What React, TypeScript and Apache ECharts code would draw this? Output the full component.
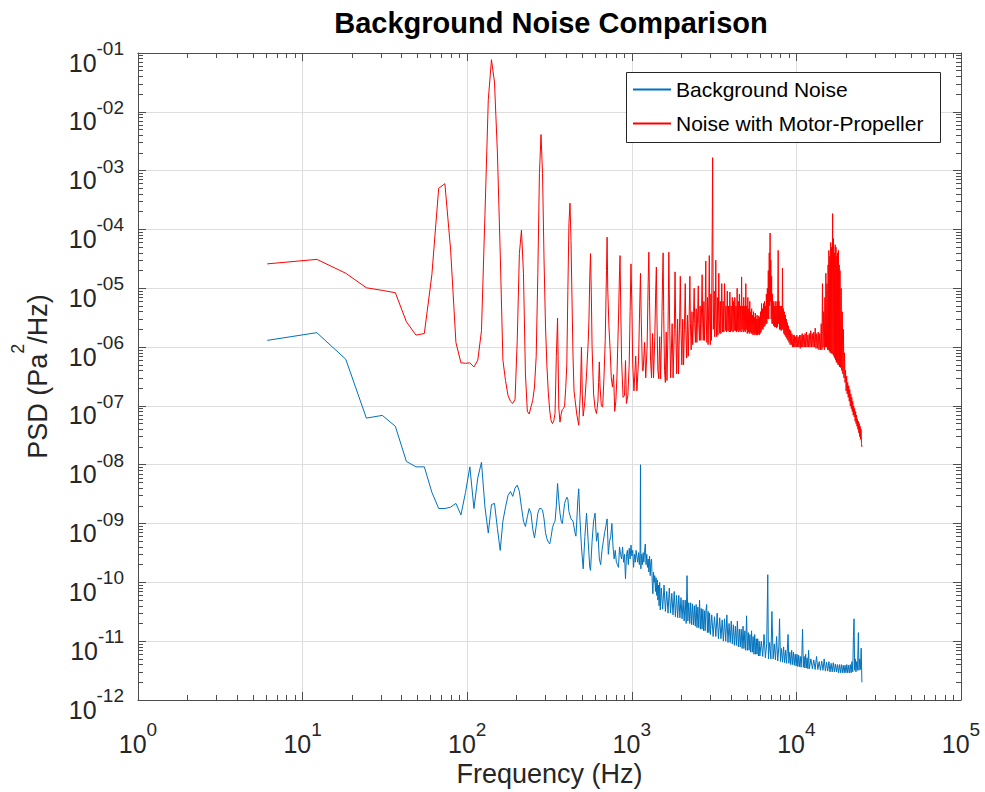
import React, { useEffect, useRef } from "react";
import * as echarts from "echarts";

const FONT = '"Liberation Sans", Arial, Helvetica, sans-serif';
const TEXT = "#262626";
const AXIS = "#4d4d4d";
const GRID = "#dedede";
const BLUE = "#0072BD";
const RED = "#FF0000";

const chartTitle = "Background Noise Comparison";
const seriesNames = ["Background Noise", "Noise with Motor-Propeller"];
const xAxisName = "Frequency (Hz)";
const yNameParts = ["PSD (Pa", "2", "/Hz)"];

const xDecades = [1, 10, 100, 1000, 10000, 100000];
const yDecades = [1e-12, 1e-11, 1e-10, 1e-9, 1e-8, 1e-7, 1e-6, 1e-5, 1e-4, 1e-3, 1e-2, 1e-1];

// ---------- Background noise (blue) ----------
const blueLow: [number, number][] = [
  [6.1, 1.3e-6], [12.2, 1.76e-6], [18.3, 6.2e-7], [24.4, 6.2e-8], [30.5, 6.9e-8], [36.6, 4.5e-8],
  [42.7, 1.14e-8], [48.8, 9.2e-9], [54.9, 9.2e-9], [61.0, 3.4e-9], [67.1, 1.8e-9], [73.2, 1.8e-9],
  [79.3, 1.9e-9], [85.4, 2.2e-9], [91.6, 1.4e-9], [97.7, 3.4e-9], [103.8, 9.2e-9], [109.9, 1.8e-9],
  [116.0, 6.0e-9], [122.1, 1.1e-8], [128.2, 1.9e-9], [134.3, 6.9e-10], [140.4, 2.1e-9], [146.5, 2.2e-9],
  [152.6, 8.2e-10], [158.7, 3.5e-10], [164.8, 1.1e-9], [170.9, 1.9e-9], [177.0, 3.0e-9], [183.1, 3.5e-9],
  [189.2, 2.9e-9], [195.3, 4.0e-9], [201.4, 4.5e-9], [207.5, 3.5e-9], [213.6, 1.9e-9], [219.7, 1.1e-9],
  [225.8, 8.9e-10], [231.9, 1.3e-9], [238.0, 1.8e-9], [244.1, 1.5e-9], [250.2, 8.0e-10], [256.3, 5.7e-10],
  [262.5, 9.0e-10], [268.6, 1.5e-9], [274.7, 1.8e-9], [280.8, 1.8e-9], [286.9, 1.7e-9], [293.0, 1.2e-9],
  [299.1, 7.0e-10], [305.2, 5.5e-10], [311.3, 4.8e-10], [317.4, 4.5e-10], [323.5, 6.0e-10], [329.6, 8.5e-10],
  [335.7, 1.0e-9], [341.8, 1.1e-9], [347.9, 2.0e-9], [354.0, 4.8e-9], [360.1, 2.5e-9], [366.2, 1.5e-9],
  [372.3, 1.1e-9], [378.4, 1.0e-9], [384.5, 1.5e-9], [390.6, 2.2e-9], [396.7, 2.5e-9], [402.8, 2.8e-9],
  [408.9, 2.6e-9], [415.0, 1.6e-9], [427.2, 1.2e-9], [439.5, 1.1e-9], [451.7, 7.0e-10], [457.8, 6.1e-10],
  [463.9, 1.2e-9], [470.0, 2.5e-9], [476.1, 3.9e-9], [482.2, 1.5e-9], [494.4, 4.0e-10], [506.6, 1.7e-10],
  [518.8, 6.0e-10], [531.0, 1.5e-9], [543.2, 5.0e-10], [555.4, 1.8e-10], [561.5, 1.6e-10], [573.7, 5.0e-10],
  [585.9, 1.1e-9], [598.1, 1.5e-9], [610.4, 5.0e-10], [622.6, 7.0e-10], [634.8, 2.5e-10], [647.0, 2.0e-10],
  [659.2, 3.5e-10], [671.4, 5.0e-10], [683.6, 7.0e-10], [695.8, 9.0e-10], [708.0, 1.2e-9], [720.2, 3.0e-10],
  [732.4, 5.0e-10], [744.6, 6.0e-10], [756.8, 1.0e-9], [769.0, 4.0e-10], [781.3, 2.5e-10], [793.5, 3.5e-10],
  [805.7, 2.2e-10], [817.9, 2.0e-10], [830.1, 1.8e-10], [842.3, 4.0e-10], [854.5, 3.0e-10], [866.7, 2.5e-10],
  [878.9, 4.0e-10], [891.1, 2.2e-10], [903.3, 3.0e-10], [915.5, 1.15e-10], [927.7, 2.8e-10], [939.9, 3.5e-10],
  [952.1, 2.0e-10], [964.3, 3.8e-10], [976.6, 2.5e-10], [988.8, 4.3e-10],
];

const blueMid: [number, number][] = [
  [1001, 2.8e-10], [1013, 3.5e-10], [1025, 1.8e-10], [1038, 3.0e-10], [1050, 2.2e-10], [1062, 3.5e-10],
  [1074, 2.7e-10], [1086, 2.2e-10], [1099, 3.2e-10], [1111, 2.0e-10], [1123, 3.5e-10], [1129, 1.0e-8],
  [1135, 1.7e-10], [1147, 3.0e-10], [1160, 2.0e-10], [1172, 3.2e-10], [1184, 2.2e-10], [1196, 3.5e-10],
  [1208, 4.5e-10], [1221, 2.0e-10], [1233, 3.0e-10], [1245, 1.8e-10], [1257, 2.5e-10], [1270, 1.5e-10],
  [1282, 2.8e-10], [1294, 1.3e-10], [1306, 2.2e-10], [1318, 2.5e-10], [1331, 1.0e-10], [1343, 6.4e-11],
  [1355, 1.5e-10], [1367, 1.0e-10], [1379, 1.3e-10], [1392, 7.0e-11], [1404, 1.2e-10], [1416, 6.0e-11],
  [1428, 1.1e-10], [1440, 5.0e-11], [1453, 9.0e-11], [1465, 4.0e-11], [1477, 1.0e-10], [1489, 3.4e-11],
  [1510, 8.0e-11], [1540, 3.5e-11], [1570, 9.0e-11], [1600, 3.2e-11], [1630, 7.0e-11], [1660, 3.0e-11],
  [1690, 8.0e-11], [1720, 3.0e-11], [1750, 6.5e-11], [1780, 2.8e-11], [1810, 7.0e-11], [1840, 2.6e-11],
  [1870, 6.0e-11], [1900, 2.5e-11], [1930, 6.0e-11], [1960, 2.5e-11], [1990, 5.5e-11], [2020, 2.4e-11],
  [2050, 5.0e-11], [2080, 2.2e-11], [2110, 5.0e-11], [2140, 2.0e-11], [2165, 1.3e-10], [2190, 2.2e-11],
  [2220, 4.5e-11], [2250, 2.0e-11], [2280, 4.5e-11], [2310, 1.9e-11], [2340, 4.3e-11], [2370, 1.9e-11],
  [2400, 4.0e-11], [2430, 1.8e-11], [2460, 4.2e-11], [2490, 1.7e-11], [2520, 3.8e-11], [2550, 1.7e-11],
  [2580, 5.0e-11], [2610, 1.6e-11], [2640, 3.6e-11], [2670, 1.6e-11], [2700, 3.5e-11], [2730, 1.5e-11],
  [2760, 3.3e-11], [2790, 1.5e-11], [2820, 3.3e-11], [2850, 4.2e-11], [2880, 1.4e-11], [2910, 3.2e-11],
  [2940, 1.4e-11], [2970, 3.0e-11], [3000, 1.3e-11],
];

const blueHigh: [number, number][] = [
  [3060, 2.8e-11], [3120, 1.2e-11], [3180, 2.6e-11], [3240, 1.2e-11], [3300, 3.0e-11], [3360, 1.1e-11],
  [3420, 2.5e-11], [3480, 1.1e-11], [3540, 2.3e-11], [3600, 1.0e-11], [3660, 2.4e-11], [3720, 1.0e-11],
  [3780, 2.8e-11], [3840, 9.5e-12], [3900, 2.0e-11], [3960, 9.5e-12], [4020, 2.2e-11], [4080, 9.0e-12],
  [4140, 1.9e-11], [4200, 8.5e-12], [4260, 1.8e-11], [4320, 8.5e-12], [4380, 2.2e-11], [4440, 8.0e-12],
  [4500, 1.6e-11], [4560, 8.0e-12], [4620, 1.6e-11], [4680, 7.5e-12], [4740, 1.8e-11], [4800, 7.5e-12],
  [4860, 1.5e-11], [4920, 7.0e-12], [4980, 2.7e-11], [5040, 7.0e-12], [5100, 1.4e-11], [5160, 7.0e-12],
  [5220, 1.3e-11], [5280, 6.5e-12], [5340, 1.5e-11], [5400, 6.5e-12], [5460, 1.2e-11], [5520, 6.0e-12],
  [5580, 1.3e-11], [5640, 6.0e-12], [5700, 1.1e-11], [5760, 6.0e-12], [5820, 1.1e-11], [5880, 5.6e-12],
  [5940, 1.0e-11], [6000, 5.6e-12], [6120, 1.0e-11], [6240, 5.5e-12], [6360, 1.3e-11], [6480, 5.2e-12],
  [6600, 9.0e-12], [6700, 1.35e-10], [6760, 5.0e-12], [6880, 9.5e-12], [7000, 5.0e-12], [7100, 3.2e-11],
  [7220, 5.0e-12], [7340, 9.0e-12], [7460, 4.8e-12], [7580, 1.2e-11], [7700, 4.6e-12], [7820, 8.0e-12],
  [7900, 2.4e-11], [8000, 4.5e-12], [8120, 7.5e-12], [8240, 4.4e-12], [8360, 8.0e-12], [8480, 4.3e-12],
  [8600, 7.0e-12], [8720, 4.2e-12], [8900, 1.3e-11], [9000, 4.2e-12], [9120, 6.5e-12], [9240, 4.0e-12],
  [9360, 7.0e-12], [9480, 4.0e-12], [9600, 6.5e-12], [9720, 3.9e-12], [9840, 6.0e-12], [9960, 3.8e-12],
  [10080, 6.0e-12], [10200, 3.7e-12], [10320, 5.8e-12], [10440, 3.7e-12], [10560, 5.5e-12], [10680, 3.6e-12],
  [10800, 6.0e-12], [10900, 1.6e-11], [11020, 3.6e-12], [11140, 5.5e-12], [11260, 3.5e-12], [11380, 6.0e-12],
  [11500, 3.5e-12], [11620, 5.2e-12], [11740, 3.4e-12], [11860, 7.0e-12], [11980, 3.4e-12], [12250, 5.0e-12],
  [12500, 3.4e-12], [12750, 4.8e-12], [13000, 3.3e-12], [13250, 5.5e-12], [13500, 3.3e-12], [13750, 4.5e-12],
  [14000, 3.2e-12], [14250, 4.6e-12], [14500, 3.2e-12], [14750, 5.0e-12], [15000, 3.1e-12], [15250, 4.4e-12],
  [15500, 3.1e-12], [15750, 4.5e-12], [16000, 3.0e-12], [16250, 4.2e-12], [16500, 3.0e-12], [16750, 4.3e-12],
  [17000, 3.0e-12], [17250, 4.1e-12], [17500, 3.0e-12], [17750, 4.0e-12], [18000, 2.9e-12], [18250, 4.0e-12],
  [18500, 2.9e-12], [18750, 4.0e-12], [19000, 2.9e-12], [19250, 3.9e-12], [19500, 2.9e-12], [19750, 3.9e-12],
  [20000, 2.9e-12], [20250, 4.0e-12], [20500, 2.9e-12], [20750, 3.9e-12], [21000, 2.9e-12], [21250, 4.0e-12],
  [21500, 2.9e-12], [21750, 4.5e-12], [22000, 3.0e-12], [22200, 1.2e-11], [22400, 2.4e-11], [22600, 3.2e-12],
  [22800, 5.0e-12], [23000, 3.0e-12], [23250, 4.5e-12], [23500, 3.2e-12], [23800, 1.4e-11], [24000, 3.2e-12],
  [24250, 5.0e-12], [24500, 3.3e-12], [24750, 7.6e-12], [24900, 3.5e-12], [25000, 2.0e-12],
];

// ---------- Noise with motor-propeller (red) ----------
const redLow: [number, number][] = [
  [6.1, 2.6e-5], [12.2, 3.1e-5], [18.3, 1.8e-5], [24.4, 1.02e-5], [30.5, 9.2e-6], [36.6, 8.4e-6],
  [42.7, 2.7e-6], [48.8, 1.6e-6], [54.9, 1.7e-6], [61.0, 1.7e-5], [67.1, 5.0e-4], [73.2, 6.0e-4],
  [79.3, 4.5e-5], [85.4, 1.2e-6], [91.6, 5.4e-7], [97.7, 5.3e-7], [103.8, 5.4e-7], [109.9, 4.6e-7],
  [116.0, 6.0e-7], [122.1, 1.9e-6], [128.2, 1.8e-4], [134.3, 1.6e-2], [140.4, 7.7e-2], [146.5, 3.2e-2],
  [152.6, 2.0e-3], [158.7, 4.0e-5], [164.8, 6.0e-7], [170.9, 2.7e-7], [177.0, 1.5e-7], [183.1, 1.2e-7],
  [189.2, 1.1e-7], [195.3, 1.3e-7], [201.4, 1.3e-6], [207.5, 3.9e-5], [213.6, 9.7e-5], [219.7, 1.8e-5],
  [225.8, 3.5e-7], [231.9, 8.1e-8], [238.0, 7.3e-8], [244.1, 9.6e-8], [250.2, 1.25e-7], [256.3, 2.1e-7],
  [262.5, 6.9e-7], [268.6, 1.8e-5], [274.7, 8.9e-4], [280.8, 4.1e-3], [286.9, 8.9e-4], [293.0, 3.0e-5],
  [299.1, 2.2e-6], [305.2, 4.6e-7], [311.3, 1.6e-7], [317.4, 8.2e-8], [323.5, 5.6e-8], [329.6, 5.0e-8],
  [335.7, 5.6e-8], [341.8, 7.5e-8], [347.9, 6.9e-7], [354.0, 3.1e-6], [360.1, 9.2e-8], [366.2, 5.3e-8],
  [372.3, 7.3e-8], [378.4, 8.7e-8], [384.5, 9.0e-8], [390.6, 1.0e-7], [396.7, 2.0e-7], [402.8, 5.0e-7],
  [408.9, 9.2e-6], [415.0, 1.25e-4], [421.1, 2.8e-4], [427.2, 6.5e-5], [433.3, 6.3e-6], [439.5, 6.9e-7],
  [445.6, 1.8e-7], [451.7, 1.3e-7], [463.9, 7.0e-8], [476.1, 4.7e-8], [488.3, 2.0e-7], [494.4, 1.0e-6],
  [500.5, 1.5e-7], [506.6, 6.7e-8], [518.8, 1.2e-7], [531.0, 3.5e-7], [543.2, 1.2e-6], [549.3, 3.0e-6],
  [555.4, 1.5e-5], [561.5, 3.9e-5], [567.6, 8.0e-6], [573.7, 1.0e-6], [585.9, 1.6e-7], [598.1, 9.0e-8],
  [610.4, 7.4e-8], [622.6, 1.2e-7], [628.7, 2.5e-7], [634.8, 5.6e-7], [640.9, 2.2e-7], [653.1, 1.0e-7],
  [665.3, 9.6e-8], [677.5, 3.0e-7], [689.7, 1.3e-6], [701.9, 2.0e-5], [708.0, 7.4e-5], [714.1, 1.0e-5],
  [726.3, 2.2e-6], [738.5, 9.0e-7], [750.7, 3.0e-7], [762.9, 2.1e-7], [775.1, 3.4e-7], [787.3, 8.1e-8],
  [799.6, 1.2e-7], [811.8, 3.0e-7], [830.1, 3.0e-6], [842.3, 2.0e-5], [848.4, 3.6e-5], [854.5, 8.0e-6],
  [866.7, 6.0e-7], [885.0, 1.4e-7], [903.3, 1.5e-7], [915.5, 5.9e-7], [927.7, 1.1e-7], [946.0, 1.5e-7],
  [964.3, 5.0e-7], [976.6, 4.0e-6], [988.8, 2.6e-5], [1001, 5.0e-6], [1013, 5.0e-7], [1031, 1.8e-7],
];

const redMid: [number, number][] = [
  [1056, 7e-7], [1074, 1.8e-7], [1099, 6e-7], [1117, 5e-6], [1129, 1.8e-5], [1141, 3e-6], [1160, 4e-7],
  [1172, 4e-7], [1196, 1.2e-6], [1215, 3e-7], [1239, 1e-6], [1257, 1.2e-5], [1269, 4.1e-5], [1282, 6e-6],
  [1300, 6e-7], [1318, 3e-7], [1337, 1.7e-6], [1355, 3e-7], [1380, 1.5e-6], [1398, 1e-5], [1410, 2.3e-5],
  [1422, 3e-6], [1440, 4e-7], [1459, 2.9e-7], [1477, 1.5e-6], [1496, 2.9e-7], [1520, 2e-6], [1538, 1.5e-5],
  [1550, 4e-5], [1562, 4e-6], [1581, 4e-7], [1599, 2.5e-7], [1618, 1.8e-6], [1636, 2.7e-7], [1660, 2e-6],
  [1679, 4.1e-5], [1697, 3e-6], [1721, 3e-7], [1758, 2.5e-6], [1782, 3e-7], [1813, 2e-6], [1831, 1.9e-5],
  [1850, 2e-6], [1874, 3.5e-7], [1898, 3e-6], [1923, 3.5e-7], [1953, 3e-6], [1971, 1.6e-5], [1990, 2e-6],
  [2014, 5e-7], [2038, 3e-6], [2063, 5e-7], [2093, 3e-6], [2112, 1.2e-5], [2130, 2e-6], [2155, 6.5e-7],
  [2179, 3.5e-6], [2203, 7e-7], [2234, 4e-6], [2253, 1.6e-5], [2271, 2.5e-6], [2295, 9e-7], [2320, 4e-6],
  [2344, 1.1e-6], [2374, 4e-6], [2393, 1e-5], [2411, 2.5e-6], [2436, 1.2e-6], [2460, 4.5e-6], [2485, 1.2e-6],
  [2515, 4e-6], [2534, 1.1e-5], [2552, 2.5e-6], [2576, 1.3e-6], [2601, 5e-6], [2625, 1.3e-6], [2656, 5e-6],
  [2675, 1.7e-5], [2693, 3e-6], [2717, 1.3e-6], [2742, 6e-6], [2766, 1.3e-6], [2797, 6e-6], [2816, 2.9e-5],
  [2834, 3e-6], [2858, 1.2e-6], [2883, 7e-6], [2907, 1.1e-6], [2938, 7e-6], [2957, 3.6e-5], [2975, 3e-6],
  [2999, 1.1e-6], [3024, 8e-6], [3048, 1.3e-6], [3080, 1e-4], [3098, 1.66e-3], [3110, 5e-5], [3128, 2e-6],
  [3168, 9e-6], [3190, 1.5e-6], [3220, 6e-6], [3238, 3e-5], [3256, 3e-6], [3280, 1.5e-6], [3309, 7e-6],
  [3334, 1.6e-6], [3362, 5e-6], [3379, 1.8e-5], [3397, 3e-6], [3425, 1.7e-6], [3450, 6e-6], [3475, 1.7e-6],
  [3520, 1.2e-5], [3560, 1.8e-6], [3590, 6e-6], [3620, 1.8e-6], [3661, 1.2e-5], [3700, 1.9e-6], [3731, 5e-6],
  [3765, 1.8e-6], [3802, 9e-6], [3840, 1.9e-6], [3872, 5e-6], [3905, 1.8e-6], [3942, 8.6e-6], [3980, 1.8e-6],
  [4013, 5e-6], [4045, 1.9e-6], [4083, 7e-6], [4120, 1.8e-6], [4154, 6e-6], [4190, 1.9e-6], [4224, 7e-6],
  [4260, 1.9e-6], [4294, 5e-6], [4330, 1.8e-6], [4365, 1e-5], [4400, 1.9e-6], [4435, 6e-6], [4470, 1.8e-6],
  [4506, 8e-6], [4540, 1.9e-6], [4576, 5e-6], [4610, 1.8e-6], [4646, 1.56e-5], [4680, 2e-6], [4717, 5e-6],
  [4750, 1.8e-6], [4787, 7e-6], [4820, 1.9e-6], [4858, 5e-6], [4890, 1.8e-6], [4928, 1.2e-5], [4960, 2e-6],
];

const redHigh: [number, number][] = [
  [4998, 5e-6], [5030, 1.7e-6], [5069, 7e-6], [5100, 1.8e-6], [5139, 4.5e-6], [5170, 1.7e-6], [5210, 6e-6],
  [5240, 1.8e-6], [5280, 4e-6], [5310, 1.7e-6], [5350, 4.5e-6], [5380, 1.7e-6], [5420, 3.5e-6], [5455, 1.6e-6],
  [5490, 4e-6], [5525, 1.7e-6], [5560, 3.2e-6], [5595, 1.6e-6], [5630, 3.8e-6], [5665, 1.7e-6], [5700, 3e-6],
  [5735, 1.6e-6], [5770, 3.5e-6], [5805, 1.6e-6], [5840, 3e-6], [5875, 1.7e-6], [5910, 3.4e-6], [5945, 1.6e-6],
  [5980, 3.2e-6], [6020, 1.7e-6], [6060, 4e-6], [6100, 1.8e-6], [6140, 5.5e-6], [6180, 2e-6], [6220, 4.5e-6],
  [6270, 2e-6], [6310, 5.5e-6], [6350, 2.2e-6], [6400, 6e-6], [6440, 2.3e-6], [6480, 5e-6], [6520, 2.5e-6],
  [6570, 8e-6], [6610, 2.5e-6], [6660, 1e-5], [6700, 3e-6], [6750, 2e-5], [6790, 3e-6], [6840, 4e-5],
  [6880, 5e-6], [6920, 8.7e-5], [6950, 6e-6], [6990, 3e-5], [7030, 3e-6], [7070, 1.6e-5], [7110, 2.5e-6],
  [7150, 8e-6], [7190, 2.5e-6], [7240, 6e-6], [7280, 2.3e-6], [7330, 5e-6], [7380, 2.2e-6], [7430, 6e-6],
  [7480, 2.2e-6], [7530, 5e-6], [7580, 2.1e-6], [7630, 6e-6], [7680, 2.2e-6], [7750, 4.4e-5], [7790, 2.5e-6],
  [7840, 6e-6], [7890, 2e-6], [7940, 5e-6], [7990, 2e-6], [8040, 5e-6], [8090, 1.9e-6], [8150, 5e-6],
  [8190, 2e-6], [8230, 2.2e-5], [8280, 2e-6], [8330, 4.5e-6], [8390, 1.7e-6], [8450, 4e-6], [8510, 1.6e-6],
  [8570, 3.5e-6], [8630, 1.5e-6], [8690, 3e-6], [8750, 1.4e-6], [8810, 2.6e-6], [8880, 1.3e-6], [8950, 2.3e-6],
  [9020, 1.2e-6], [9090, 2e-6], [9160, 1.1e-6], [9240, 1.9e-6], [9310, 1.1e-6], [9390, 1.7e-6], [9470, 1e-6],
  [9550, 1.6e-6], [9630, 1e-6], [9710, 1.6e-6], [9800, 1e-6], [9880, 1.5e-6], [9970, 1e-6], [10060, 1.6e-6],
  [10150, 1e-6], [10250, 1.5e-6], [10350, 1e-6], [10450, 1.6e-6], [10550, 9.5e-7], [10650, 1.6e-6],
  [10750, 1e-6], [10850, 1.7e-6], [10950, 1e-6], [11060, 1.6e-6], [11170, 1e-6], [11280, 1.7e-6],
  [11390, 1e-6], [11500, 1.8e-6], [11620, 1e-6], [11740, 1.6e-6], [11860, 1e-6], [11980, 1.7e-6],
  [12100, 1e-6], [12230, 1.9e-6], [12360, 1e-6], [12490, 1.7e-6], [12620, 1e-6], [12750, 1.8e-6],
  [12880, 1e-6], [13010, 2.1e-6], [13150, 9.5e-7], [13290, 1.7e-6], [13430, 9.5e-7], [13570, 1.8e-6],
  [13710, 9e-7], [13850, 1.7e-6], [14000, 9e-7], [14150, 2.5e-6], [14290, 9e-7], [14400, 1.2e-5],
  [14520, 1e-6], [14650, 4e-6], [14780, 9e-7], [14900, 7e-6], [15020, 1e-6], [15100, 1.8e-5], [15220, 1e-6],
  [15340, 1.2e-5], [15460, 9e-7], [15580, 2.5e-5], [15700, 9e-7], [15750, 4.4e-5], [15860, 8.5e-7],
  [15960, 3.5e-5], [16060, 8e-7], [16160, 6e-5], [16260, 8e-7], [16360, 5e-5], [16460, 7.7e-7],
  [16600, 1.86e-4], [16700, 7.5e-7], [16800, 7e-5], [16900, 7e-7], [17000, 4e-5], [17100, 6.5e-7],
  [17200, 5.5e-5], [17300, 6e-7], [17400, 5e-5], [17500, 5.5e-7], [17600, 3.5e-5], [17700, 5.5e-7],
  [17800, 4e-5], [17900, 5e-7], [18000, 4.4e-5], [18100, 5e-7], [18200, 2.5e-5], [18300, 4.6e-7],
  [18400, 2e-5], [18550, 4.5e-7], [18700, 1e-5], [18850, 4e-7], [19000, 4e-6], [19150, 3.5e-7],
  [19300, 2e-6], [19450, 3e-7], [19600, 8e-7], [19750, 2.5e-7], [19900, 4e-7], [20050, 1.8e-7],
  [20200, 3.2e-7], [20350, 1.6e-7], [20500, 2.5e-7], [20650, 1.4e-7], [20800, 2.2e-7], [20950, 1.2e-7],
  [21100, 1.9e-7], [21250, 1e-7], [21400, 1.6e-7], [21550, 9e-8], [21700, 1.4e-7], [21850, 8e-8],
  [22000, 1.2e-7], [22150, 7e-8], [22300, 1e-7], [22450, 6.5e-8], [22600, 9e-8], [22750, 5.5e-8],
  [22900, 8e-8], [23050, 5e-8], [23200, 7e-8], [23350, 4.5e-8], [23500, 6e-8], [23650, 4e-8],
  [23800, 5.5e-8], [23950, 3.5e-8], [24100, 5e-8], [24250, 3e-8], [24400, 4.5e-8], [24550, 2.7e-8],
  [24700, 4e-8], [24850, 2.3e-8], [25000, 2e-8],
];

function minorTicks(decades: number[]): number[] {
  const out: number[] = [];
  for (let i = 0; i < decades.length - 1; i++) {
    for (let k = 2; k <= 9; k++) out.push(k * decades[i]);
  }
  return out;
}

function expLabel(v: number, pad: boolean): string {
  const e = Math.round(Math.log10(v));
  const s = pad ? (e < 0 ? "-" : "") + String(Math.abs(e)).padStart(2, "0") : String(e);
  return `{b|10}{s|${s}}`;
}

const labelRich = {
  b: { fontSize: 25, lineHeight: 25, fontFamily: FONT, color: TEXT, verticalAlign: "bottom" },
  s: { fontSize: 19, fontFamily: FONT, color: TEXT, verticalAlign: "top", padding: [0, 0, 17, 0] },
};

export default function App() {
  const ref = useRef<HTMLDivElement>(null);

  useEffect(() => {
    document.body.style.margin = "0";
    if (!ref.current) return;
    const chart = echarts.init(ref.current, undefined, { renderer: "svg" });

    const axisLine = { show: true, onZero: false, lineStyle: { color: AXIS, width: 1 } };
    const majorTick = (vals: number[]) => ({
      show: true, inside: true, length: 8, customValues: vals, lineStyle: { color: AXIS, width: 1 },
    });
    const minorTick = (vals: number[]) => ({
      show: true, inside: true, length: 5, customValues: vals, lineStyle: { color: AXIS, width: 1 },
    });
    const xBase = { type: "log", logBase: 10, min: xDecades[0], max: xDecades[xDecades.length - 1] };
    const yBase = { type: "log", logBase: 10, min: yDecades[0], max: yDecades[yDecades.length - 1] };
    const xMinor = minorTicks(xDecades);
    const yMinor = minorTicks(yDecades);
    const noLabel = { show: false };
    const noSplit = { show: false };

    const option: any = {
      animation: false,
      grid: { left: 138, right: 24, top: 53, bottom: 92, containLabel: false, outerBoundsMode: "none" },
      graphic: [
        {
          type: "rect", z: 3, silent: true,
          shape: { x: 626.5, y: 72.5, width: 314, height: 70 },
          style: { fill: "#ffffff", stroke: "#262626", lineWidth: 1 },
        },
        {
          type: "text", z: 10, x: 551, y: 23, silent: true,
          style: {
            text: chartTitle, fontSize: 29, fontWeight: "bold", fontFamily: FONT, fill: "#000",
            align: "center", verticalAlign: "middle", textAlign: "center", textVerticalAlign: "middle",
          },
        },
      ],
      legend: {
        orient: "vertical", left: 632, top: 79, padding: 0, itemGap: 13, itemWidth: 38, itemHeight: 14,
        z: 4, selectedMode: false,
        itemStyle: { opacity: 0, borderWidth: 0 },
        textStyle: { fontSize: 21, fontFamily: FONT, color: "#000" },
        data: seriesNames,
      },
      xAxis: [
        {
          ...xBase, position: "bottom", axisLine, axisTick: majorTick(xDecades),
          splitLine: { show: true, lineStyle: { color: GRID, width: 1 } },
          axisLabel: {
            show: true, customValues: xDecades, margin: 20, formatter: (v: number) => expLabel(v, false),
            rich: labelRich, showMinLabel: true, showMaxLabel: true,
          },
          name: xAxisName, nameLocation: "middle", nameGap: 58,
          nameTextStyle: { fontSize: 27, fontFamily: FONT, color: TEXT },
        },
        { ...xBase, position: "top", axisLine, axisTick: majorTick(xDecades), axisLabel: noLabel, splitLine: noSplit },
        { ...xBase, position: "bottom", axisLine: { show: false }, axisTick: minorTick(xMinor), axisLabel: noLabel, splitLine: noSplit },
        { ...xBase, position: "top", axisLine: { show: false }, axisTick: minorTick(xMinor), axisLabel: noLabel, splitLine: noSplit },
      ],
      yAxis: [
        {
          ...yBase, position: "left", axisLine, axisTick: majorTick(yDecades),
          splitLine: { show: true, lineStyle: { color: GRID, width: 1 } },
          axisLabel: {
            show: true, customValues: yDecades, margin: 14, padding: [8, 0, 0, 0],
            formatter: (v: number) => expLabel(v, true), rich: labelRich, showMinLabel: true, showMaxLabel: true,
          },
          name: `{b|${yNameParts[0]}}{s|${yNameParts[1]}}{b|${yNameParts[2]}}`,
          nameLocation: "middle", nameGap: 87, nameRotate: 90,
          nameTextStyle: {
            rich: {
              b: { fontSize: 27, lineHeight: 27, fontFamily: FONT, color: TEXT, verticalAlign: "bottom" },
              s: { fontSize: 18, fontFamily: FONT, color: TEXT, verticalAlign: "top", padding: [0, 0, 24, 0] },
            },
          },
        },
        { ...yBase, position: "right", axisLine, axisTick: majorTick(yDecades), axisLabel: noLabel, splitLine: noSplit },
        { ...yBase, position: "left", axisLine: { show: false }, axisTick: minorTick(yMinor), axisLabel: noLabel, splitLine: noSplit },
        { ...yBase, position: "right", axisLine: { show: false }, axisTick: minorTick(yMinor), axisLabel: noLabel, splitLine: noSplit },
      ],
      series: [
        {
          name: seriesNames[0], type: "line", xAxisIndex: 0, yAxisIndex: 0,
          data: [...blueLow, ...blueMid, ...blueHigh],
          symbol: "none", showSymbol: false, silent: true, z: 2,
          lineStyle: { color: BLUE, width: 1 }, itemStyle: { color: BLUE },
          emphasis: { disabled: true },
        },
        {
          name: seriesNames[1], type: "line", xAxisIndex: 0, yAxisIndex: 0,
          data: [...redLow, ...redMid, ...redHigh],
          symbol: "none", showSymbol: false, silent: true, z: 2,
          lineStyle: { color: RED, width: 1 }, itemStyle: { color: RED },
          emphasis: { disabled: true },
        },
      ],
    };

    chart.setOption(option);
    return () => chart.dispose();
  }, []);

  return <div ref={ref} style={{ width: 985, height: 792 }} />;
}
